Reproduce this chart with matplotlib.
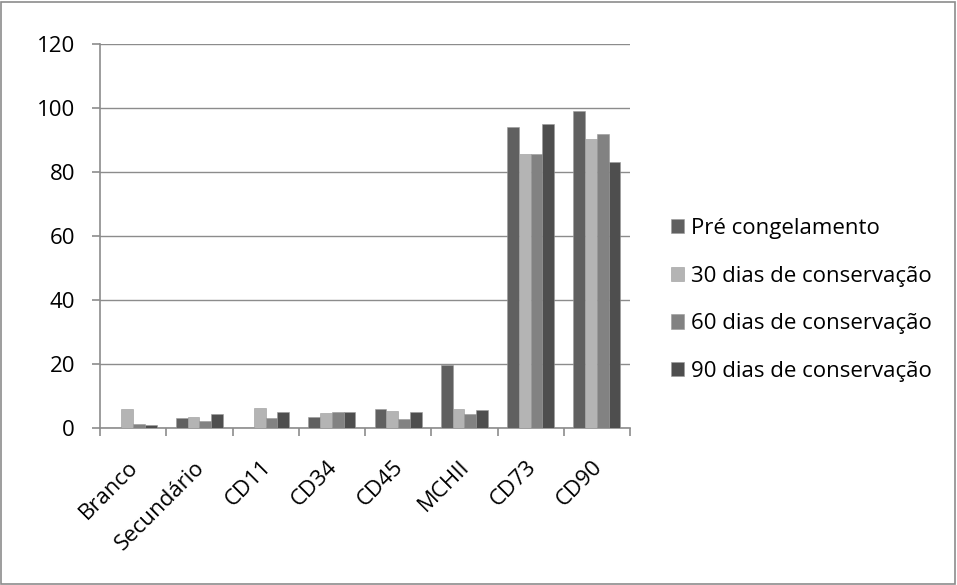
import numpy as np
import matplotlib.pyplot as plt
import matplotlib.transforms as mtransforms
from matplotlib.patches import Rectangle

categorias = ["Branco", "Secundário", "CD11", "CD34", "CD45", "MCHII", "CD73", "CD90"]
series = ["Pré congelamento", "30 dias de conservação",
          "60 dias de conservação", "90 dias de conservação"]
pre_cong = [0, 3.0, 0, 3.3, 6.0, 19.7, 94.0, 99.0]
dias30 = [5.8, 3.3, 6.1, 4.6, 5.2, 6.0, 85.7, 90.2]
dias60 = [1.4, 2.2, 3.0, 5.0, 2.7, 4.5, 85.7, 92.0]
dias90 = [1.0, 4.4, 5.0, 5.1, 5.1, 5.6, 95.0, 83.2]
valores = [pre_cong, dias30, dias60, dias90]
cores = ["#606060", "#b4b4b4", "#828282", "#4e4e4e"]

plt.rcParams['font.family'] = ['Open Sans', 'DejaVu Sans']
fs = 16

fig = plt.figure(figsize=(9.57, 5.85), dpi=100)
ax = fig.add_axes([100/957, 1 - 428/585, 530/957, 384/585])

x = np.arange(len(categorias))
w = 0.178
for i, (serie, vals) in enumerate(zip(series, valores)):
    ax.bar(x + (i - 1.5) * w, vals, w, color=cores[i], label=serie,
           edgecolor="#9a9a9a", linewidth=0.4, zorder=3)

ax.set_xlim(-0.5, len(categorias) - 0.5)
ax.set_ylim(0, 120)
ax.set_yticks(range(0, 121, 20))
ax.grid(axis="y", color="#8c8c8c", linewidth=1.0, zorder=0)
ax.set_xticks(x)
ax.set_xticklabels(categorias, rotation=45, ha="right", va="center",
                   rotation_mode="anchor", fontsize=fs)
ax.tick_params(axis="x", length=0, pad=26)
desloc = mtransforms.ScaledTranslation(2/100, 0, fig.dpi_scale_trans)
for lbl in ax.get_xticklabels():
    lbl.set_transform(lbl.get_transform() + desloc)
ax.set_xticks(np.arange(-0.5, len(categorias)), minor=True)
ax.tick_params(axis="x", which="minor", length=6, direction="out", color="#8c8c8c", width=1.2)
ax.tick_params(axis="y", labelsize=fs, length=6, color="#8c8c8c", width=1.2, pad=12)
for s in ["top", "right"]:
    ax.spines[s].set_visible(False)
for s in ["left", "bottom"]:
    ax.spines[s].set_color("#8c8c8c")
    ax.spines[s].set_linewidth(1.2)

leg = ax.legend(loc="center left", bbox_to_anchor=(662/957, 1 - 300/585),
                bbox_transform=fig.transFigure, frameon=False, fontsize=fs,
                handlelength=0.6, handleheight=0.6, handletextpad=0.3,
                labelspacing=1.2, borderaxespad=0)

fig.add_artist(Rectangle((1/957, 1/585), 954/957, 582/585, transform=fig.transFigure,
                         fill=False, edgecolor="#8c8c8c", linewidth=1.2))

fig.savefig("out.png", dpi=100)
